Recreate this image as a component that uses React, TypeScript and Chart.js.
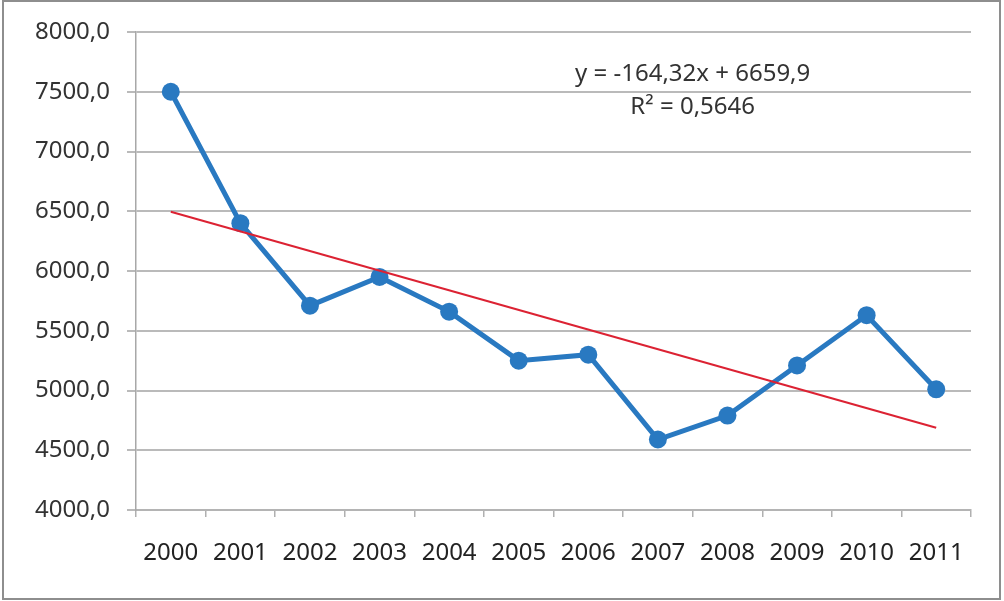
import { useEffect, useRef } from "react";
import { Chart, registerables } from "chart.js";

Chart.register(...registerables);

const years = ["2000", "2001", "2002", "2003", "2004", "2005", "2006", "2007", "2008", "2009", "2010", "2011"];
const values = [7500, 6400, 5710, 5950, 5660, 5250, 5300, 4590, 4790, 5210, 5630, 5010];
// linear trend endpoints (y = -164,32x + 6659,9 at x = 1 and x = 12)
const trendStart = 6495.6;
const trendEnd = 4688.1;
const yTicks = [4000, 4500, 5000, 5500, 6000, 6500, 7000, 7500, 8000];
const equationLines = ["y = -164,32x + 6659,9", "R² = 0,5646"];

const FONT = "'Noto Sans', 'Open Sans', sans-serif";

const equationPlugin = {
  id: "equation",
  afterDatasetsDraw(chart: any) {
    const { ctx, scales } = chart;
    const x = (scales.x.getPixelForValue(7) + scales.x.getPixelForValue(8)) / 2;
    ctx.save();
    ctx.font = `24px ${FONT}`;
    ctx.fillStyle = "#333333";
    ctx.textAlign = "center";
    ctx.textBaseline = "middle";
    ctx.fillText(equationLines[0], x, scales.y.getPixelForValue(7650));
    ctx.fillText(equationLines[1], x, scales.y.getPixelForValue(7375));
    ctx.restore();
  },
};

const TrendChart = () => {
  const chartRef = useRef<HTMLCanvasElement>(null);

  useEffect(() => {
    if (!chartRef.current) return;
    const ctx = chartRef.current.getContext("2d");
    if (!ctx) return;
    const chart = new Chart(ctx, {
      type: "line",
      data: {
        labels: years,
        datasets: [
          {
            label: "Trend",
            data: [
              { x: years[0], y: trendStart },
              { x: years[years.length - 1], y: trendEnd },
            ] as any,
            borderColor: "#dc2233",
            borderWidth: 2,
            pointRadius: 0,
            fill: false,
            tension: 0,
          },
          {
            label: "Values",
            data: values,
            borderColor: "#2979c1",
            borderWidth: 5,
            pointRadius: 9,
            pointBackgroundColor: "#2979c1",
            pointBorderWidth: 0,
            fill: false,
            tension: 0,
          },
        ],
      },
      options: {
        responsive: false,
        animation: false,
        layout: { padding: { top: 32, right: 33, left: 0, bottom: 0 } },
        plugins: {
          legend: { display: false },
          tooltip: { enabled: false },
        },
        scales: {
          x: {
            type: "category",
            offset: true,
            grid: {
              offset: true,
              drawOnChartArea: false,
              drawTicks: true,
              tickLength: 7,
              color: "#b0b0b0",
              lineWidth: 1.5,
            },
            border: { color: "#b4b4b4", width: 2 },
            ticks: {
              font: { family: FONT, size: 24 },
              color: "#222222",
              padding: 22,
              maxRotation: 0,
              autoSkip: false,
            },
            afterFit: (scale: any) => {
              scale.height = 91;
            },
          },
          y: {
            min: 4000,
            max: 8000,
            afterBuildTicks: (scale: any) => {
              scale.ticks = yTicks.map((v) => ({ value: v }));
            },
            grid: {
              color: "#bababa",
              lineWidth: 2,
              tickLength: 9,
            },
            border: { color: "#a8a8a8", width: 1.5 },
            ticks: {
              font: { family: FONT, size: 24 },
              color: "#333333",
              padding: 17,
              callback: (v: any) => Number(v).toFixed(1).replace(".", ","),
            },
            afterFit: (scale: any) => {
              scale.width = 136;
            },
          },
        },
      },
      plugins: [equationPlugin],
    });
    return () => chart.destroy();
  }, []);

  return (
    <div style={{ position: "fixed", left: 0, top: 0, width: 1004, height: 601, background: "#ffffff" }}>
      <canvas ref={chartRef} width={1004} height={601} style={{ width: 1004, height: 601, display: "block" }}></canvas>
      <div
        style={{
          position: "absolute",
          left: 2,
          top: 0,
          width: 999,
          height: 600,
          boxSizing: "border-box",
          border: "2px solid #8e8e8e",
          pointerEvents: "none",
        }}
      />
    </div>
  );
};

export default function App() {
  return <TrendChart />;
}
